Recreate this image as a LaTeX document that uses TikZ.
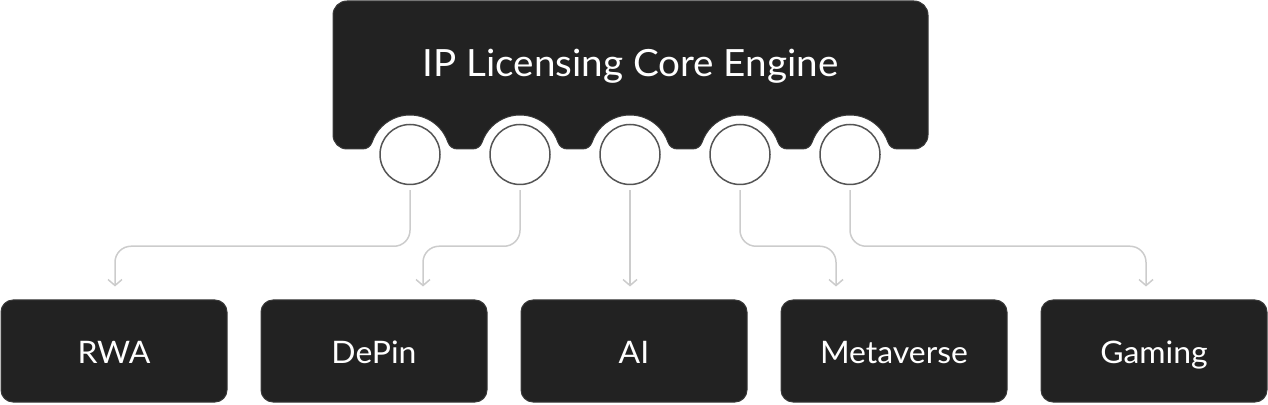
\documentclass[tikz,border=0pt]{standalone}
\usepackage{fontspec}
\setmainfont{Lato}[FakeStretch=1.03]
\usetikzlibrary{arrows.meta, positioning}
\definecolor{boxfill}{HTML}{222222}
\definecolor{boxline}{HTML}{3A3A3A}
\definecolor{portline}{HTML}{555555}
\definecolor{arrowgray}{HTML}{CCCCCC}

\begin{document}
\begin{tikzpicture}[
  x=1pt, y=1pt,
  core/.style={fill=boxfill, draw=boxline, line width=1pt},
  port/.style={circle, draw=portline, fill=white, line width=1.5pt, minimum size=60pt, inner sep=0pt},
  sector/.style={rectangle, rounded corners=12pt, fill=boxfill, draw=boxline, line width=1pt,
    minimum width=226pt, minimum height=102pt, text=white, font=\fontsize{31}{36}\selectfont,
    text height=26pt, text depth=0pt},
  arrow/.style={-{Straight Barb[length=6pt, width=14pt]}, draw=arrowgray, line width=1.5pt,
    rounded corners=16pt, shorten <=5pt, shorten >=13pt},
]
\useasboundingbox (0,0) rectangle (1268,404);

% Engine block with scalloped bottom
\path[core] (333,389) arc[start angle=180, end angle=90, radius=14]
  -- (914,403) arc[start angle=90, end angle=0, radius=14]
  -- (928,269) arc[start angle=0, end angle=-90, radius=14]
  -- (897.37,255) arc[start angle=270, end angle=198.66, radius=10]
     arc[start angle=18.66, end angle=161.34, radius=40] arc[start angle=341.34, end angle=270, radius=10]
  -- (787.37,255) arc[start angle=270, end angle=198.66, radius=10]
     arc[start angle=18.66, end angle=161.34, radius=40] arc[start angle=341.34, end angle=270, radius=10]
  -- (677.37,255) arc[start angle=270, end angle=198.66, radius=10]
     arc[start angle=18.66, end angle=161.34, radius=40] arc[start angle=341.34, end angle=270, radius=10]
  -- (567.37,255) arc[start angle=270, end angle=198.66, radius=10]
     arc[start angle=18.66, end angle=161.34, radius=40] arc[start angle=341.34, end angle=270, radius=10]
  -- (457.37,255) arc[start angle=270, end angle=198.66, radius=10]
     arc[start angle=18.66, end angle=161.34, radius=40] arc[start angle=341.34, end angle=270, radius=10]
  -- (347,255) arc[start angle=270, end angle=180, radius=14] -- cycle;
\node[anchor=base, text=white, font=\fontsize{37.5}{44}\selectfont] (engine) at (630.5,327) {IP Licensing Core Engine};

% Ports
\node[port] (p1) at (410,249.5) {};
\node[port] (p2) at (520,249.5) {};
\node[port] (p3) at (630,249.5) {};
\node[port] (p4) at (740,249.5) {};
\node[port] (p5) at (850,249.5) {};

% Sectors
\node[sector] (rwa) at (114,53) {RWA};
\node[sector] (depin) at (374,53) {DePin};
\node[sector] (ai) at (634,53) {AI};
\node[sector] (meta) at (894,53) {Metaverse};
\node[sector] (gaming) at (1154,53) {Gaming};

% Arrows
\draw[arrow] (p1.south) -- ++(0,-61) -| ([xshift=1pt]rwa.north);
\draw[arrow] (p2.south) -- ++(0,-61) -| ([xshift=49pt]depin.north);
\draw[arrow] (p3.south) -- (p3.south |- ai.north);
\draw[arrow] (p4.south) -- ++(0,-61) -| ([xshift=-58pt]meta.north);
\draw[arrow] (p5.south) -- ++(0,-61) -| ([xshift=-8pt]gaming.north);

\end{tikzpicture}
\end{document}
